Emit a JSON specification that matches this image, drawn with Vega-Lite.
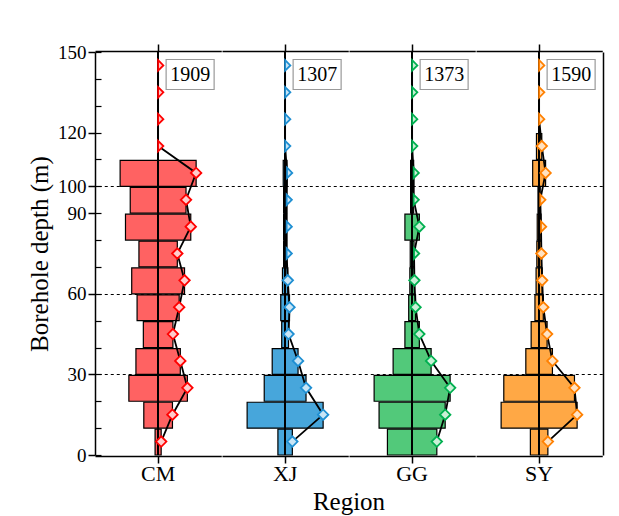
{
  "$schema": "https://vega.github.io/schema/vega-lite/v6.json",
  "padding": {"left": 27, "top": 43, "right": 5, "bottom": 5},
  "background": "white",
  "data": {"values": [
    {"region":"CM","d0":0,"d1":10,"mid":5,"rel":0.08,"n":1909},
    {"region":"CM","d0":10,"d1":20,"mid":15,"rel":0.377,"n":1909},
    {"region":"CM","d0":20,"d1":30,"mid":25,"rel":0.77,"n":1909},
    {"region":"CM","d0":30,"d1":40,"mid":35,"rel":0.584,"n":1909},
    {"region":"CM","d0":40,"d1":50,"mid":45,"rel":0.389,"n":1909},
    {"region":"CM","d0":50,"d1":60,"mid":55,"rel":0.554,"n":1909},
    {"region":"CM","d0":60,"d1":70,"mid":65,"rel":0.695,"n":1909},
    {"region":"CM","d0":70,"d1":80,"mid":75,"rel":0.505,"n":1909},
    {"region":"CM","d0":80,"d1":90,"mid":85,"rel":0.859,"n":1909},
    {"region":"CM","d0":90,"d1":100,"mid":95,"rel":0.734,"n":1909},
    {"region":"CM","d0":100,"d1":110,"mid":105,"rel":1.0,"n":1909},
    {"region":"CM","d0":110,"d1":120,"mid":115,"rel":0,"n":1909},
    {"region":"CM","d0":120,"d1":130,"mid":125,"rel":0,"n":1909},
    {"region":"CM","d0":130,"d1":140,"mid":135,"rel":0,"n":1909},
    {"region":"CM","d0":140,"d1":150,"mid":145,"rel":0,"n":1909},
    {"region":"XJ","d0":0,"d1":10,"mid":5,"rel":0.19,"n":1307},
    {"region":"XJ","d0":10,"d1":20,"mid":15,"rel":1.0,"n":1307},
    {"region":"XJ","d0":20,"d1":30,"mid":25,"rel":0.55,"n":1307},
    {"region":"XJ","d0":30,"d1":40,"mid":35,"rel":0.34,"n":1307},
    {"region":"XJ","d0":40,"d1":50,"mid":45,"rel":0.09,"n":1307},
    {"region":"XJ","d0":50,"d1":60,"mid":55,"rel":0.115,"n":1307},
    {"region":"XJ","d0":60,"d1":70,"mid":65,"rel":0.07,"n":1307},
    {"region":"XJ","d0":70,"d1":80,"mid":75,"rel":0.04,"n":1307},
    {"region":"XJ","d0":80,"d1":90,"mid":85,"rel":0.04,"n":1307},
    {"region":"XJ","d0":90,"d1":100,"mid":95,"rel":0.04,"n":1307},
    {"region":"XJ","d0":100,"d1":110,"mid":105,"rel":0.05,"n":1307},
    {"region":"XJ","d0":110,"d1":120,"mid":115,"rel":0,"n":1307},
    {"region":"XJ","d0":120,"d1":130,"mid":125,"rel":0,"n":1307},
    {"region":"XJ","d0":130,"d1":140,"mid":135,"rel":0,"n":1307},
    {"region":"XJ","d0":140,"d1":150,"mid":145,"rel":0,"n":1307},
    {"region":"GG","d0":0,"d1":10,"mid":5,"rel":0.65,"n":1373},
    {"region":"GG","d0":10,"d1":20,"mid":15,"rel":0.87,"n":1373},
    {"region":"GG","d0":20,"d1":30,"mid":25,"rel":1.0,"n":1373},
    {"region":"GG","d0":30,"d1":40,"mid":35,"rel":0.5,"n":1373},
    {"region":"GG","d0":40,"d1":50,"mid":45,"rel":0.19,"n":1373},
    {"region":"GG","d0":50,"d1":60,"mid":55,"rel":0.09,"n":1373},
    {"region":"GG","d0":60,"d1":70,"mid":65,"rel":0.06,"n":1373},
    {"region":"GG","d0":70,"d1":80,"mid":75,"rel":0.05,"n":1373},
    {"region":"GG","d0":80,"d1":90,"mid":85,"rel":0.19,"n":1373},
    {"region":"GG","d0":90,"d1":100,"mid":95,"rel":0.04,"n":1373},
    {"region":"GG","d0":100,"d1":110,"mid":105,"rel":0.04,"n":1373},
    {"region":"GG","d0":110,"d1":120,"mid":115,"rel":0,"n":1373},
    {"region":"GG","d0":120,"d1":130,"mid":125,"rel":0,"n":1373},
    {"region":"GG","d0":130,"d1":140,"mid":135,"rel":0,"n":1373},
    {"region":"GG","d0":140,"d1":150,"mid":145,"rel":0,"n":1373},
    {"region":"SY","d0":0,"d1":10,"mid":5,"rel":0.23,"n":1590},
    {"region":"SY","d0":10,"d1":20,"mid":15,"rel":1.0,"n":1590},
    {"region":"SY","d0":20,"d1":30,"mid":25,"rel":0.93,"n":1590},
    {"region":"SY","d0":30,"d1":40,"mid":35,"rel":0.35,"n":1590},
    {"region":"SY","d0":40,"d1":50,"mid":45,"rel":0.21,"n":1590},
    {"region":"SY","d0":50,"d1":60,"mid":55,"rel":0.11,"n":1590},
    {"region":"SY","d0":60,"d1":70,"mid":65,"rel":0.08,"n":1590},
    {"region":"SY","d0":70,"d1":80,"mid":75,"rel":0.06,"n":1590},
    {"region":"SY","d0":80,"d1":90,"mid":85,"rel":0.05,"n":1590},
    {"region":"SY","d0":90,"d1":100,"mid":95,"rel":0.03,"n":1590},
    {"region":"SY","d0":100,"d1":110,"mid":105,"rel":0.17,"n":1590},
    {"region":"SY","d0":110,"d1":120,"mid":115,"rel":0.07,"n":1590},
    {"region":"SY","d0":120,"d1":130,"mid":125,"rel":0,"n":1590},
    {"region":"SY","d0":130,"d1":140,"mid":135,"rel":0,"n":1590},
    {"region":"SY","d0":140,"d1":150,"mid":145,"rel":0,"n":1590}
  ]},
  "facet": {
    "column": {
      "field": "region", "type": "nominal", "sort": ["CM","XJ","GG","SY"], "title": "Region",
      "header": {
        "labelOrient": "bottom", "titleOrient": "bottom",
        "labelFont": "Liberation Serif", "labelFontSize": 22, "labelColor": "black", "labelPadding": 0,
        "titleFont": "Liberation Serif", "titleFontSize": 25, "titleFontWeight": "normal", "titleColor": "black", "titlePadding": -5
      }
    }
  },
  "spacing": 0,
  "spec": {
    "width": 126.25,
    "height": 403,
    "layer": [
      {
        "mark": {"type": "bar", "stroke": "black", "strokeWidth": 1.2},
        "encoding": {
          "y": {"field": "d0", "type": "quantitative", "bin": "binned",
            "scale": {"domain": [0, 150], "nice": false, "zero": true},
            "axis": {"orient": "left", "values": [0,30,60,90,100,120,150], "tickSize": 7, "tickWidth": 1.5, "tickColor": "black",
              "domainColor": "black", "domainWidth": 1.5, "labelFontSize": 19, "labelPadding": 2, "labelOverlap": false,
              "title": "Borehole depth (m)", "titleFontSize": 25, "titlePadding": 5, "grid": false}},
          "y2": {"field": "d1"},
          "x": {"field": "rel", "type": "quantitative", "stack": "center",
            "scale": {"domain": [-0.3306, 1.3306], "nice": false, "zero": false},
            "axis": {"orient": "bottom", "values": [0.5], "labels": false, "title": null, "tickSize": 7, "grid": false,
              "domainColor": "black", "tickColor": "black", "tickWidth": 1.5, "domainWidth": 1.5}},
          "color": {"field": "region", "type": "nominal",
            "scale": {"domain": ["CM","XJ","GG","SY"], "range": ["#ff6262","#47a6db","#52c97a","#ffa845"]}, "legend": null}
        }
      },
      {
        "mark": {"type": "rule", "strokeWidth": 1.5, "color": "black"},
        "encoding": {
          "x": {"datum": 0.5, "type": "quantitative", "axis": null},
          "y": {"datum": 0, "type": "quantitative", "axis": null},
          "y2": {"datum": 150}
        }
      },
      {
        "mark": {"type": "line", "color": "black", "strokeWidth": 1.8, "orient": "horizontal"},
        "encoding": {
          "x": {"field": "rel", "type": "quantitative", "stack": "center", "axis": null},
          "y": {"field": "mid", "type": "quantitative",
            "axis": {"orient": "right", "labels": false, "ticks": false, "domain": true, "domainColor": "black", "domainWidth": 1.5,
              "grid": true, "values": [30, 60, 100], "gridDash": [3, 3], "gridColor": "black", "gridWidth": 1, "title": null}}
        }
      },
      {
        "mark": {"type": "point", "size": 110, "filled": true, "opacity": 1, "strokeWidth": 1.8},
        "encoding": {
          "x": {"field": "rel", "type": "quantitative", "stack": "center",
            "axis": {"orient": "top", "values": [0.5], "labels": false, "title": null, "tickSize": 7, "grid": false,
              "domainColor": "black", "tickColor": "black", "tickWidth": 1.5, "domainWidth": 1.5}},
          "y": {"field": "mid", "type": "quantitative",
            "axis": {"orient": "left", "values": [0,10,20,30,40,50,60,70,80,90,100,110,120,130,140,150], "tickSize": -6,
              "tickColor": "black", "tickWidth": 1.2, "labels": false, "domain": false, "title": null, "grid": false}},
          "shape": {"condition": {"test": "datum.rel < 0.06", "value": "M0,-1L1,0L0,1Z"}, "value": "diamond"},
          "fill": {"field": "region", "type": "nominal",
            "scale": {"domain": ["CM","XJ","GG","SY"], "range": ["#ffcccc","#c8e5f6","#c9f0d6","#ffe2c2"]}, "legend": null},
          "stroke": {"field": "region", "type": "nominal",
            "scale": {"domain": ["CM","XJ","GG","SY"], "range": ["#ff0000","#1f8fd2","#00b050","#ff8000"]}, "legend": null}
        }
      },
      {
        "transform": [{"aggregate": [{"op": "max", "field": "n", "as": "n"}], "groupby": ["region"]}],
        "mark": {"type": "point", "shape": "M-1.6,-1H1.6V1H-1.6Z", "size": 900, "filled": true, "fill": "white",
          "stroke": "#9a9a9a", "strokeWidth": 1.2, "opacity": 1, "xOffset": 32, "yOffset": 22.5},
        "encoding": {
          "x": {"datum": 0.5, "type": "quantitative", "axis": null},
          "y": {"datum": 150, "type": "quantitative", "axis": null}
        }
      },
      {
        "transform": [{"aggregate": [{"op": "max", "field": "n", "as": "n"}], "groupby": ["region"]}],
        "mark": {"type": "text", "font": "Liberation Serif", "fontSize": 20, "color": "black", "align": "center",
          "baseline": "middle", "dx": 32, "dy": 23},
        "encoding": {
          "x": {"datum": 0.5, "type": "quantitative", "axis": null},
          "y": {"datum": 150, "type": "quantitative", "axis": null},
          "text": {"field": "n", "type": "quantitative", "format": "d"}
        }
      }
    ],
    "resolve": {
      "axis": {"x": "independent", "y": "independent"}
    }
  },
  "config": {
    "view": {"stroke": null},
    "axis": {"labelFont": "Liberation Serif", "titleFont": "Liberation Serif", "labelColor": "black", "titleColor": "black", "titleFontWeight": "normal"}
  }
}
